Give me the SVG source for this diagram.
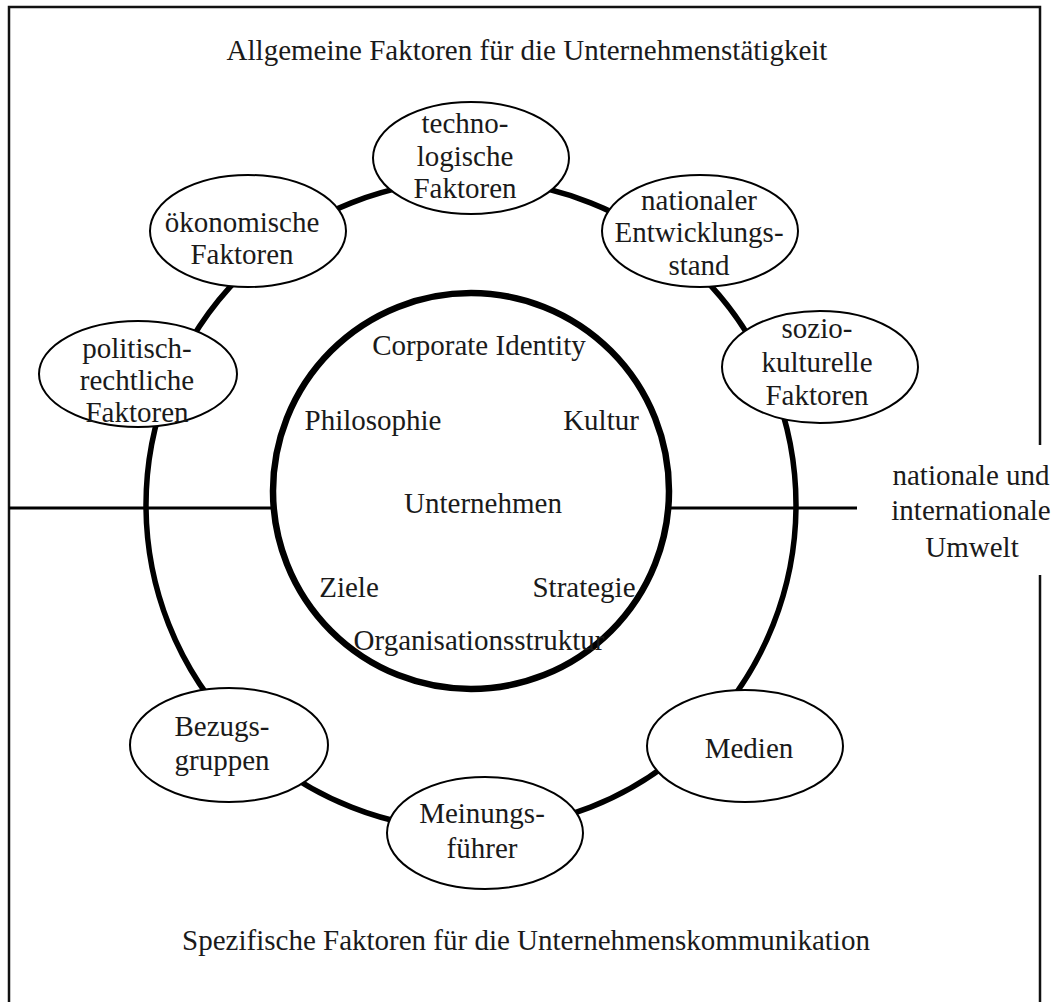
<svg xmlns="http://www.w3.org/2000/svg" width="1058" height="1002" viewBox="0 0 1058 1002">
  <style>
    text { font-family: "Liberation Serif", "Times New Roman", serif; font-size: 29px; fill: #1a1a1a; text-anchor: middle; }
    .frame { fill: none; stroke: #111; stroke-width: 2.5; }
    .ring { fill: none; stroke: #000; stroke-width: 5.5; }
    .divider { fill: none; stroke: #000; stroke-width: 3; }
    .core { fill: #fff; stroke: #000; stroke-width: 6.5; }
    .factor { fill: #fff; stroke: #000; stroke-width: 2; }
  </style>

  <rect width="1058" height="1002" fill="#fff"/>

  <!-- outer frame (open at the bottom, gap on the right for the label) -->
  <g id="frame">
    <path class="frame" d="M9,1002 V7 H1040 V445"/>
    <path class="frame" d="M1040,575 V1002"/>
  </g>

  <!-- connectors: environment ring and the dividing line -->
  <g id="connectors">
    <line class="divider" x1="9" y1="508" x2="857" y2="508"/>
    <circle class="ring" cx="471" cy="505" r="325"/>
  </g>

  <!-- headings -->
  <text id="title-top" x="527" y="60">Allgemeine Faktoren für die Unternehmenstätigkeit</text>
  <text id="title-bottom" x="526" y="950">Spezifische Faktoren für die Unternehmenskommunikation</text>

  <g id="umwelt">
    <text x="971" y="485">nationale und</text>
    <text x="971" y="520">internationale</text>
    <text x="972" y="557">Umwelt</text>
  </g>

  <!-- company core -->
  <g id="unternehmen">
    <circle class="core" cx="471" cy="491" r="198"/>
    <text x="479" y="355">Corporate Identity</text>
    <text x="373" y="430">Philosophie</text>
    <text x="601" y="430">Kultur</text>
    <text x="483" y="513">Unternehmen</text>
    <text x="349" y="597">Ziele</text>
    <text x="584" y="597">Strategie</text>
    <text x="479" y="650">Organisationsstruktur</text>
  </g>

  <!-- general factors -->
  <g id="technologische">
    <ellipse class="factor" cx="471" cy="158" rx="98" ry="56"/>
    <text x="465" y="133">techno-</text>
    <text x="465" y="166">logische</text>
    <text x="465" y="198">Faktoren</text>
  </g>
  <g id="entwicklungsstand">
    <ellipse class="factor" cx="700" cy="231" rx="98" ry="56"/>
    <text x="699" y="210">nationaler</text>
    <text x="699" y="242">Entwicklungs-</text>
    <text x="699" y="275">stand</text>
  </g>
  <g id="soziokulturelle">
    <ellipse class="factor" cx="820" cy="367" rx="98" ry="56"/>
    <text x="817" y="338">sozio-</text>
    <text x="817" y="372">kulturelle</text>
    <text x="817" y="405">Faktoren</text>
  </g>
  <g id="oekonomische">
    <ellipse class="factor" cx="248" cy="231" rx="98" ry="56"/>
    <text x="242" y="232">ökonomische</text>
    <text x="242" y="264">Faktoren</text>
  </g>
  <g id="politisch">
    <ellipse class="factor" cx="138" cy="374" rx="99" ry="53"/>
    <text x="137" y="358">politisch-</text>
    <text x="137" y="390">rechtliche</text>
    <text x="137" y="422">Faktoren</text>
  </g>

  <!-- communication-specific factors -->
  <g id="bezugsgruppen">
    <ellipse class="factor" cx="229" cy="745" rx="99" ry="57"/>
    <text x="222" y="736">Bezugs-</text>
    <text x="222" y="770">gruppen</text>
  </g>
  <g id="meinungsfuehrer">
    <ellipse class="factor" cx="485" cy="833" rx="98" ry="56"/>
    <text x="482" y="823">Meinungs-</text>
    <text x="482" y="858">führer</text>
  </g>
  <g id="medien">
    <ellipse class="factor" cx="745" cy="746" rx="98" ry="56"/>
    <text x="749" y="758">Medien</text>
  </g>
</svg>
